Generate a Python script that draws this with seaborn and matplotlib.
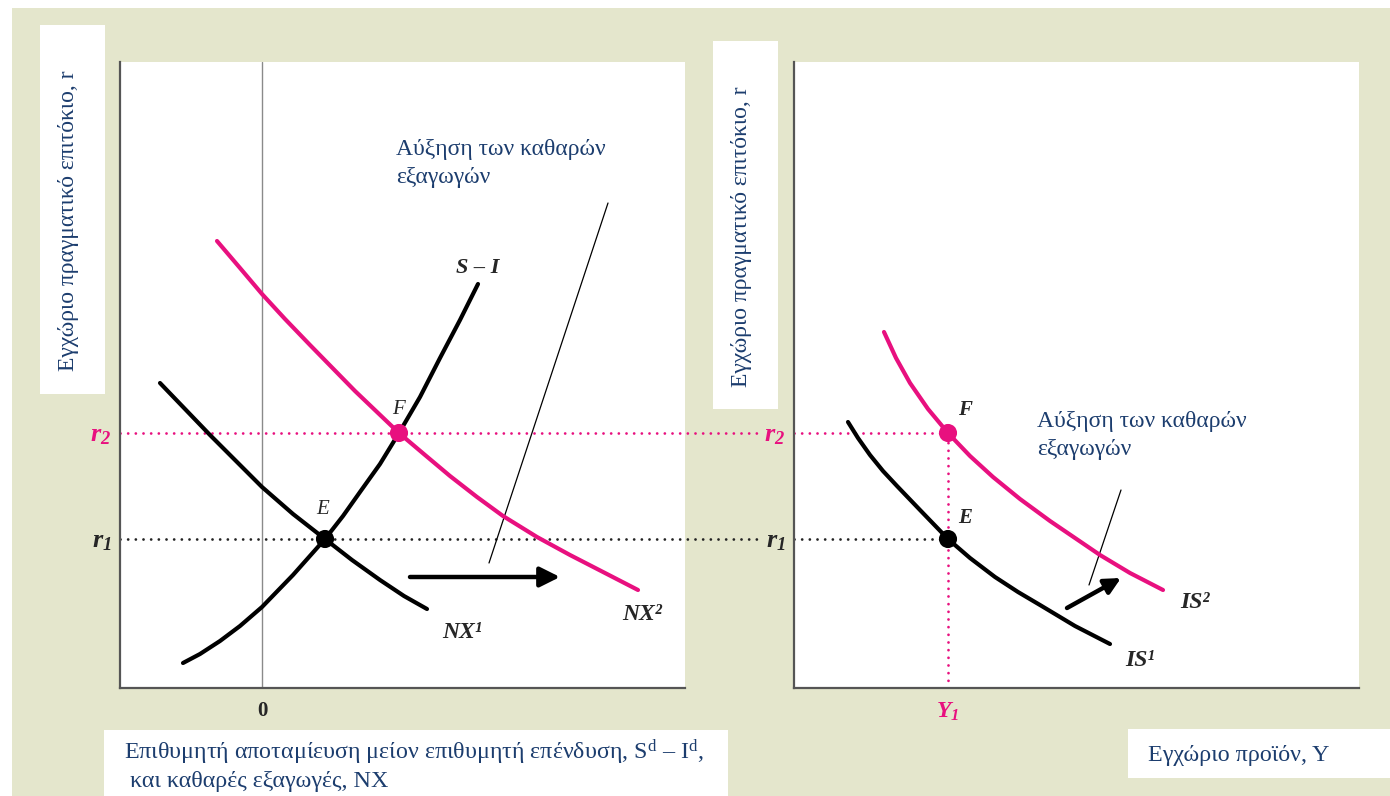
import matplotlib
matplotlib.use("Agg")
import matplotlib.pyplot as plt
from matplotlib.patches import Rectangle
import seaborn as sns

W, H = 1390, 796

nx2_x = [-45, -22, 0, 23, 48, 93, 137, 163, 188, 215, 241, 275, 308, 343, 376]
nx2_y = [447, 420, 394, 369, 343, 297, 255, 233, 212, 191, 172, 151, 133, 115, 98]
nx1_x = [-102, -77, -52, -26, 0, 31, 63, 90, 118, 142, 165]
nx1_y = [305, 279, 253, 227, 201, 174, 149, 128, 108, 92, 79]
si_x = [-79, -62, -42, -22, 0, 31, 63, 81, 98, 118, 137, 158, 178, 198, 216]
si_y = [25, 34, 47, 62, 81, 113, 149, 172, 196, 224, 255, 291, 330, 368, 404]

# right panel: IS curves
is2_x = [90, 102, 116, 134, 154, 176, 199, 226, 256, 281, 306, 336, 369]
is2_y = [356, 330, 305, 279, 255, 232, 211, 189, 167, 150, 133, 115, 98]
is1_x = [54, 64, 76, 89, 103, 126, 154, 176, 201, 224, 246, 281, 316]
is1_y = [266, 250, 233, 217, 202, 178, 149, 130, 111, 96, 83, 62, 44]

# interest rates, output and equilibria
r1, r2 = 149, 255
y1 = 154
e_left_x, f_left_x = 63, 137

ylabel_txt = "Εγχώριο πραγματικό επιτόκιο, r"
note_lines = ["Αύξηση των καθαρών", "εξαγωγών"]
xlabel_left = ["Επιθυμητή αποταμίευση μείον επιθυμητή επένδυση, "
               r"$\mathrm{S}^{\mathrm{d}}$ – $\mathrm{I}^{\mathrm{d}}$,",
               " και καθαρές εξαγωγές, NX"]
xlabel_right = "Εγχώριο προϊόν, Y"

pink = "#e8107f"
navy = "#1c3d6e"
beige = "#e4e6cc"
spine_c = "#555555"

sns.set_theme(style="white")
plt.rcParams["font.family"] = ["Liberation Serif", "DejaVu Serif"]
plt.rcParams["mathtext.fontset"] = "custom"
plt.rcParams["mathtext.rm"] = "Liberation Serif"
plt.rcParams["mathtext.it"] = "Liberation Serif:italic"
plt.rcParams["mathtext.bf"] = "Liberation Serif:italic:bold"
plt.rcParams["lines.solid_joinstyle"] = "round"
plt.rcParams["lines.solid_capstyle"] = "round"

fig = plt.figure(figsize=(W / 100, H / 100), dpi=100)
fig.patch.set_facecolor("white")


def fig_rect(x0, y0, x1, y1_, color, z):
    fig.add_artist(Rectangle((x0 / W, 1 - y1_ / H), (x1 - x0) / W, (y1_ - y0) / H,
                             transform=fig.transFigure, facecolor=color,
                             edgecolor="none", zorder=z))


def fig_text(x, y, s, **kw):
    fig.text(x / W, 1 - y / H, s, **kw)


# background and label boxes
fig_rect(12, 8, W, H, beige, -10)
fig_rect(40, 25, 105, 394, "white", 1)
fig_rect(713, 41, 778, 409, "white", 1)
fig_rect(104, 730, 728, H, "white", 1)
fig_rect(1128, 729, W, 778, "white", 1)

fig_text(69, 221, ylabel_txt, rotation=90, ha="center", va="center",
         fontsize=17, color=navy, zorder=3)
fig_text(741, 237, ylabel_txt, rotation=90, ha="center", va="center",
         fontsize=17, color=navy, zorder=3)
fig_text(124, 752, xlabel_left[0], ha="left", va="center", fontsize=17.3,
         color=navy, zorder=3)
fig_text(124, 782, xlabel_left[1], ha="left", va="center", fontsize=17.3,
         color=navy, zorder=3)
fig_text(1148, 755, xlabel_right, ha="left", va="center", fontsize=17.3,
         color=navy, zorder=3)

ax1 = fig.add_axes([120 / W, 1 - 688 / H, 565 / W, 626 / H])
ax2 = fig.add_axes([794 / W, 1 - 688 / H, 565 / W, 626 / H])

for ax in (ax1, ax2):
    ax.set_facecolor("white")
    sns.despine(ax=ax)
    for side in ("left", "bottom"):
        ax.spines[side].set_color(spine_c)
        ax.spines[side].set_linewidth(1.6)
    ax.set_ylim(0, 626)
    ax.tick_params(axis="both", length=0)
    ax.tick_params(axis="y", pad=6, labelsize=19)
    ax.set_yticks([r2, r1], labels=[r"$\mathbf{r_2}$", r"$\mathbf{r_1}$"])
    ax.get_yticklabels()[0].set_color(pink)
    ax.set_xlabel("")
    ax.set_ylabel("")

ax1.set_xlim(-142, 423)
ax2.set_xlim(0, 565)

dots = dict(lw=2, ls=(0, (0.01, 2.75)), dash_capstyle="round")
curve = dict(lw=3, sort=False, estimator=None, zorder=3)

# ---- left panel ----
ax1.axvline(0, color="#8a8a8a", lw=1.0, zorder=1)
ax1.plot([-142, 498], [r2, r2], color=pink, clip_on=False, zorder=2, **dots)
ax1.plot([-142, 498], [r1, r1], color="#222222", clip_on=False, zorder=2, **dots)

sns.lineplot(x=nx2_x, y=nx2_y, ax=ax1, color=pink, **curve)
sns.lineplot(x=nx1_x, y=nx1_y, ax=ax1, color="black", **curve)
sns.lineplot(x=si_x, y=si_y, ax=ax1, color="black", **curve)
sns.scatterplot(x=[e_left_x], y=[r1], ax=ax1, color="black", s=170, edgecolor="none", zorder=5)
sns.scatterplot(x=[f_left_x], y=[r2], ax=ax1, color=pink, s=170, edgecolor="none", zorder=5)

ax1.set_xticks([0], labels=["0"])
ax1.tick_params(axis="x", pad=9, labelsize=15)
ax1.get_xticklabels()[0].set_fontweight("bold")

ax1.text(e_left_x - 2, r1 + 20, "E", fontsize=15, style="italic", ha="center", va="bottom")
ax1.text(f_left_x - 1, r2 + 14, "F", fontsize=15, style="italic", ha="center", va="bottom")
ax1.text(216, 410, "S – I", fontsize=16, style="italic", weight="bold", ha="center", va="bottom")
ax1.text(200, 56, "NX¹", fontsize=17, style="italic", weight="bold", ha="center", va="center")
ax1.text(380, 74, "NX²", fontsize=17, style="italic", weight="bold", ha="center", va="center")

ax1.text(134, 533, note_lines[0], fontsize=17, color=navy, ha="left", va="baseline")
ax1.text(134, 505, note_lines[1], fontsize=17, color=navy, ha="left", va="baseline")
ax1.plot([346, 227], [485, 125], color="black", lw=0.9, zorder=2)
ax1.annotate("", xy=(298, 111), xytext=(148, 111),
             arrowprops=dict(arrowstyle="-|>", color="black", lw=3.2, mutation_scale=30,
                             shrinkA=0, shrinkB=0), zorder=4)

# ---- right panel ----
ax2.plot([0, y1], [r2, r2], color=pink, zorder=2, **dots)
ax2.plot([0, y1], [r1, r1], color="#222222", zorder=2, **dots)
ax2.plot([y1, y1], [0, r2], color=pink, zorder=2, **dots)

sns.lineplot(x=is2_x, y=is2_y, ax=ax2, color=pink, **curve)
sns.lineplot(x=is1_x, y=is1_y, ax=ax2, color="black", **curve)
sns.scatterplot(x=[y1], y=[r1], ax=ax2, color="black", s=170, edgecolor="none", zorder=5)
sns.scatterplot(x=[y1], y=[r2], ax=ax2, color=pink, s=170, edgecolor="none", zorder=5)

ax2.set_xticks([y1], labels=[r"$\mathbf{Y_1}$"])
ax2.tick_params(axis="x", pad=9, labelsize=17)
ax2.get_xticklabels()[0].set_color(pink)

ax2.text(171, 268, "F", fontsize=15, style="italic", weight="bold", ha="center", va="bottom")
ax2.text(171, 160, "E", fontsize=15, style="italic", weight="bold", ha="center", va="bottom")
ax2.text(401, 86, "IS²", fontsize=17, style="italic", weight="bold", ha="center", va="center")
ax2.text(346, 28, "IS¹", fontsize=17, style="italic", weight="bold", ha="center", va="center")

ax2.text(243, 261, note_lines[0], fontsize=17, color=navy, ha="left", va="baseline")
ax2.text(243, 233, note_lines[1], fontsize=17, color=navy, ha="left", va="baseline")
ax2.plot([327, 295], [198, 103], color="black", lw=0.9, zorder=2)
ax2.annotate("", xy=(327, 110), xytext=(273, 80),
             arrowprops=dict(arrowstyle="-|>", color="black", lw=3.2, mutation_scale=24,
                             shrinkA=0, shrinkB=0), zorder=4)

fig.savefig("out.png", dpi=100)
